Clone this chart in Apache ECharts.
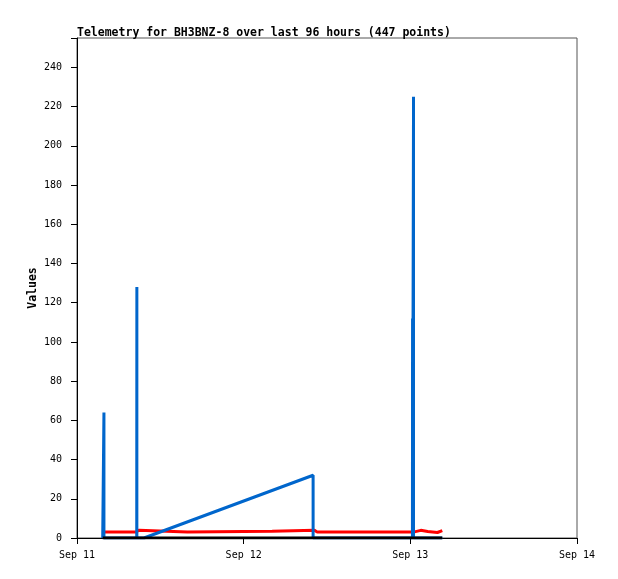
<!DOCTYPE html>
<html><head><meta charset="utf-8">
<script src="https://cdn.jsdelivr.net/npm/echarts@6/dist/echarts.min.js"></script>
<style>html,body{margin:0;padding:0;background:#fff}#c{width:618px;height:579px}</style>
</head><body><div id="c"></div>
<script>
// x values are hours since Sep 11 00:00
var xTickLabels = ["Sep 11", "Sep 12", "Sep 13", "Sep 14"];
var blueHours  = [3.7, 3.88, 3.88, 3.88, 8.6, 8.62, 8.62, 8.62, 9.65, 34.0, 34.0, 48.3, 48.32, 48.32, 48.32, 48.46, 48.46, 48.46, 52.6];
var blueValues = [0,   0,    64,   0,    0,   0,    128,  0,    0,    32,   0,    0,    0,     112,   0,     0,     225,   0,     0];
var redHours  = [3.74, 8.5, 8.5, 8.9, 8.9, 15.9, 15.9, 28.1, 28.1, 34.2, 34.6, 48.45, 48.45, 49.5, 49.5, 50.5, 50.5, 51.9, 51.9, 52.6];
var redValues = [3,    3,   4,   4,   3,   3,    3.4,  3.4,  4,    4,    3,    3,     3.9,   3.9,  3.3,  3.3,  2.8,  2.8,  3.8,  3.8];
var blackHours  = [3.7, 52.6];
var blackValues = [0, 0];

function pairs(xs, ys){ return xs.map(function(x,i){ return [x, ys[i]]; }); }
var font = '"DejaVu Sans Mono", "Liberation Mono", monospace';
var chart = echarts.init(document.getElementById('c'), null, {renderer:'canvas'});
chart.setOption({
  animation:false,
  title:{text:'Telemetry for BH3BNZ-8 over last 96 hours (447 points)', left:72, top:22,
    textStyle:{fontFamily:font, fontSize:11.5, fontWeight:'bold', color:'#000'}},
  grid:{left:77, right:41, top:38, bottom:41, show:true, borderColor:'#555', borderWidth:1},
  xAxis:{type:'value', min:0, max:72, interval:24,
    axisLine:{show:true, onZero:false, lineStyle:{color:'#000', width:1}},
    axisTick:{show:true, length:6, lineStyle:{color:'#000'}},
    splitLine:{show:false},
    axisLabel:{fontFamily:font, fontSize:10, color:'#000', margin:12,
      formatter:function(v){ return xTickLabels[Math.round(v/24)] || ''; }}},
  yAxis:{type:'value', min:0, max:255, interval:20,
    name:'Values', nameLocation:'middle', nameGap:38, nameMoveOverlap:false,
    nameTextStyle:{fontFamily:font, fontSize:11.5, fontWeight:'bold', color:'#000'},
    axisLine:{show:true, lineStyle:{color:'#000', width:1}},
    axisTick:{show:true, length:6, lineStyle:{color:'#000'}},
    splitLine:{show:false},
    axisLabel:{fontFamily:font, fontSize:10, color:'#000', margin:15,
      formatter:function(v){ return (v % 20 === 0) ? String(v) : ''; }}},
  series:[
    {type:'line', data:pairs(redHours, redValues), showSymbol:false, lineStyle:{color:'#ff0000', width:3}, z:2},
    {type:'line', data:pairs(blueHours, blueValues), showSymbol:false, lineStyle:{color:'#0066cc', width:3, join:'bevel'}, z:3},
    {type:'line', data:pairs(blackHours, blackValues), showSymbol:false, lineStyle:{color:'#000', width:3}, z:4}
  ]
});
</script></body></html>
